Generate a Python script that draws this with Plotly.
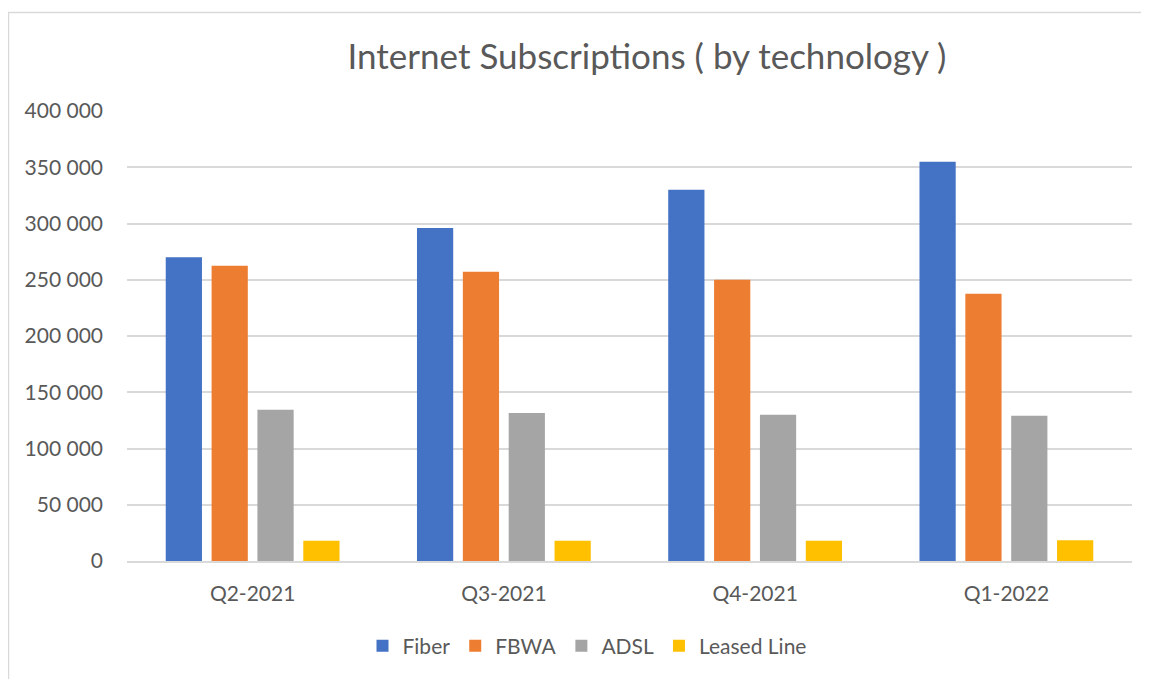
import plotly.graph_objects as go

quarters = ["Q2-2021", "Q3-2021", "Q4-2021", "Q1-2022"]
fiber = [270000, 296000, 330000, 355000]
fbwa = [262500, 257000, 250000, 237500]
adsl = [134500, 131500, 130000, 129000]
leased = [18000, 18000, 18000, 18500]

series = [
    ("Fiber", fiber, "#4472C4"),
    ("FBWA", fbwa, "#ED7D31"),
    ("ADSL", adsl, "#A5A5A5"),
    ("Leased Line", leased, "#FFC000"),
]

font_family = "Lato, 'Open Sans', sans-serif"
text_color = "#595959"

fig = go.Figure()
for name, vals, color in series:
    fig.add_trace(go.Bar(
        x=quarters, y=vals, name=name,
        marker=dict(color=color, line=dict(width=0)),
    ))

# page body has an 8px margin; compensate so the picture lines up
OFF = 8
W, H = 1149 - OFF, 679 - OFF
ml, mr, mt, mb = 127 - OFF, 17, 111 - OFF, 118
pw = W - ml - mr
ph = H - mt - mb

def px(x):
    return (x - OFF - ml) / pw

def py(y):
    return (H - mb - (y - OFF)) / ph

fig.update_layout(
    width=W, height=H,
    margin=dict(l=ml, r=mr, t=mt, b=mb),
    paper_bgcolor="white", plot_bgcolor="white",
    barmode="group", bargap=0.27, bargroupgap=0.21,
    separators=". ",
    font=dict(family=font_family, color=text_color, size=21),
    title=dict(
        text="Internet Subscriptions ( by technology )",
        x=px(647), xanchor="center", xref="paper",
        y=1 - (57 - OFF) / H, yanchor="middle",
        font=dict(size=35, color=text_color, family=font_family),
    ),
    legend=dict(
        orientation="h", x=px(587), xanchor="center",
        y=py(646), yanchor="middle",
        font=dict(size=21, color=text_color),
        itemwidth=30, traceorder="normal",
    ),
    showlegend=True,
)

fig.update_yaxes(
    range=[0, 400000], dtick=50000, tickformat=",d",
    showgrid=True, gridcolor="#D9D9D9", gridwidth=1.5,
    zeroline=False, showline=False, ticks="",
    ticklabelstandoff=23,
    tickfont=dict(size=21, color=text_color),
)
fig.update_xaxes(
    showline=True, linecolor="#D9D9D9", linewidth=1.5,
    ticks="", showgrid=False,
    tickfont=dict(size=21, color=text_color),
    ticklabelstandoff=13,
)

# chart border (only top and left visible)
fig.add_shape(type="rect", xref="paper", yref="paper",
              x0=px(8.5), x1=px(1200), y0=py(12.5), y1=py(720),
              line=dict(color="#D9D9D9", width=1.5), fillcolor="rgba(0,0,0,0)",
              layer="below")

fig.write_html("out.html")
